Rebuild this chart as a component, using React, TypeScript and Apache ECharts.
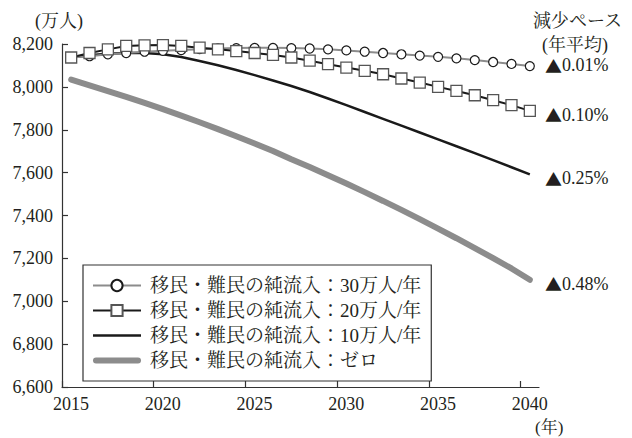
import React, { useEffect, useRef } from "react";
import * as echarts from "echarts";

const years = [2015, 2016, 2017, 2018, 2019, 2020, 2021, 2022, 2023, 2024, 2025, 2026, 2027, 2028, 2029, 2030, 2031, 2032, 2033, 2034, 2035, 2036, 2037, 2038, 2039, 2040];

const net30 = [8137, 8143, 8152, 8158, 8164, 8168, 8172, 8176, 8179, 8181, 8182, 8182, 8181, 8179, 8175, 8170, 8164, 8158, 8152, 8146, 8140, 8133, 8125, 8116, 8107, 8097];
const net20 = [8137, 8158, 8175, 8191, 8194, 8195, 8191, 8183, 8175, 8167, 8158, 8149, 8137, 8122, 8106, 8090, 8075, 8059, 8039, 8020, 8000, 7981, 7961, 7938, 7915, 7888];
const net10 = [8137, 8147, 8154, 8158, 8158, 8152, 8139, 8121, 8101, 8079, 8055, 8030, 8004, 7976, 7946, 7915, 7883, 7851, 7819, 7787, 7755, 7723, 7691, 7658, 7625, 7592];
const net0 = [8034, 8007, 7980, 7953, 7925, 7896, 7866, 7835, 7803, 7770, 7736, 7701, 7662, 7626, 7588, 7549, 7509, 7468, 7426, 7383, 7339, 7294, 7248, 7201, 7153, 7100];

const seriesNames = [
  "移民・難民の純流入：30万人/年",
  "移民・難民の純流入：20万人/年",
  "移民・難民の純流入：10万人/年",
  "移民・難民の純流入：ゼロ",
];
const paceLabels = ["0.01%", "0.10%", "0.25%", "0.48%"];
const paceValues = [8097, 7888, 7593, 7100];
const xTicks = [2015, 2020, 2025, 2030, 2035, 2040];

const FONT = "'Liberation Serif', 'Noto Serif CJK JP', 'Noto Sans CJK JP', serif";
const CJK = "'Noto Sans CJK JP', sans-serif";
const TXT = "#231f20";

function pts(vals: number[]) {
  return vals.map((v, i) => [years[i] + 0.5, v]);
}

export default function App() {
  const ref = useRef<HTMLDivElement>(null);
  useEffect(() => {
    document.body.style.margin = "0";
    const chart = echarts.init(ref.current!, undefined, { renderer: "svg" });
    const gridLeft = 62, gridTop = 44, gridRight = 539, gridBottom = 387;
    const yToPx = (v: number) => gridTop + ((8200 - v) / 1600) * (gridBottom - gridTop);
    chart.setOption({
      animation: false,
      backgroundColor: "#ffffff",
      textStyle: { fontFamily: FONT, color: TXT },
      grid: { left: gridLeft, top: gridTop, right: 632 - gridRight, bottom: 438 - gridBottom },
      xAxis: {
        type: "value",
        min: 2015,
        max: 2041,
        interval: 5,
        splitLine: { show: false },
        axisLine: { lineStyle: { color: "#333", width: 1.2 } },
        axisTick: { inside: true, length: 6, customValues: xTicks, lineStyle: { color: "#333", width: 1.2 } },
        axisLabel: {
          customValues: xTicks,
          fontSize: 18,
          fontFamily: FONT,
          color: TXT,
          margin: 8,
          padding: [0, 0, 0, 18],
          formatter: (v: number) => String(v),
        },
      },
      yAxis: {
        type: "value",
        min: 6600,
        max: 8200,
        interval: 200,
        splitLine: { show: false },
        axisLine: { show: true, lineStyle: { color: "#333", width: 1.2 } },
        axisTick: { show: true, inside: true, length: 6, lineStyle: { color: "#333", width: 1.2 } },
        axisLabel: {
          fontSize: 18,
          fontFamily: FONT,
          color: TXT,
          margin: 9,
          formatter: (v: number) => v.toLocaleString("en-US"),
        },
      },
      legend: {
        orient: "vertical",
        left: 83,
        top: 265,
        padding: [11, 10, 11, 9],
        itemGap: 6,
        itemWidth: 48,
        itemHeight: 14,
        borderColor: "#333",
        borderWidth: 1.2,
        backgroundColor: "#fff",
        textStyle: { fontSize: 19, fontFamily: FONT, color: TXT, padding: [0, 0, 0, 4], lineHeight: 18 },
        data: [
          { name: seriesNames[0] },
          { name: seriesNames[1] },
          { name: seriesNames[2], icon: "path://M0,0H48V2.6H0Z", itemStyle: { color: "#1a1a1a" } },
          { name: seriesNames[3], icon: "path://M3,0H45A3,3 0 0 1 45,6H3A3,3 0 0 1 3,0Z", itemStyle: { color: "#8c8c8c" } },
        ],
      },
      graphic: [
        { type: "text", left: 35, top: 12, style: { text: "(万人)", font: `18px ${FONT}`, fill: TXT } },
        { type: "text", left: 535, top: 419, style: { text: "(年)", font: `17px ${FONT}`, fill: TXT } },
        { type: "text", left: 533, top: 12, style: { text: "減少ペース", font: `18px ${FONT}`, fill: TXT } },
        { type: "text", left: 542, top: 36, style: { text: "(年平均)", font: `18px ${FONT}`, fill: TXT } },
        ...paceLabels.map((t, i) => ({
          type: "text",
          x: 545,
          y: yToPx(paceValues[i]) + (i === 0 ? -1 : 4),
          style: {
            text: `{t|▲}${t}`,
            font: `18px ${FONT}`,
            fill: TXT,
            verticalAlign: "middle",
            align: "left",
            rich: { t: { fontFamily: CJK, fontSize: 17, fill: TXT } },
          },
        })),
      ],
      series: [
        {
          name: seriesNames[3],
          type: "line",
          data: pts(net0),
          symbol: "none",
          lineStyle: { color: "#8c8c8c", width: 6, cap: "round" },
          itemStyle: { color: "#8c8c8c" },
          z: 2,
        },
        {
          name: seriesNames[2],
          type: "line",
          data: pts(net10),
          symbol: "none",
          lineStyle: { color: "#1a1a1a", width: 2.5 },
          itemStyle: { color: "#1a1a1a" },
          z: 3,
        },
        {
          name: seriesNames[0],
          type: "line",
          data: pts(net30),
          symbol: "circle",
          symbolSize: 9,
          lineStyle: { color: "#8c8c8c", width: 2 },
          itemStyle: { color: "#ffffff", borderColor: "#1a1a1a", borderWidth: 1.2 },
          z: 4,
        },
        {
          name: seriesNames[1],
          type: "line",
          data: pts(net20),
          symbol: "rect",
          symbolSize: 11,
          lineStyle: { color: "#1a1a1a", width: 2 },
          itemStyle: { color: "#ffffff", borderColor: "#555555", borderWidth: 1.3 },
          z: 5,
        },
      ],
    });
    return () => chart.dispose();
  }, []);
  return <div ref={ref} style={{ position: "fixed", left: 0, top: 0, width: 632, height: 438 }} />;
}
